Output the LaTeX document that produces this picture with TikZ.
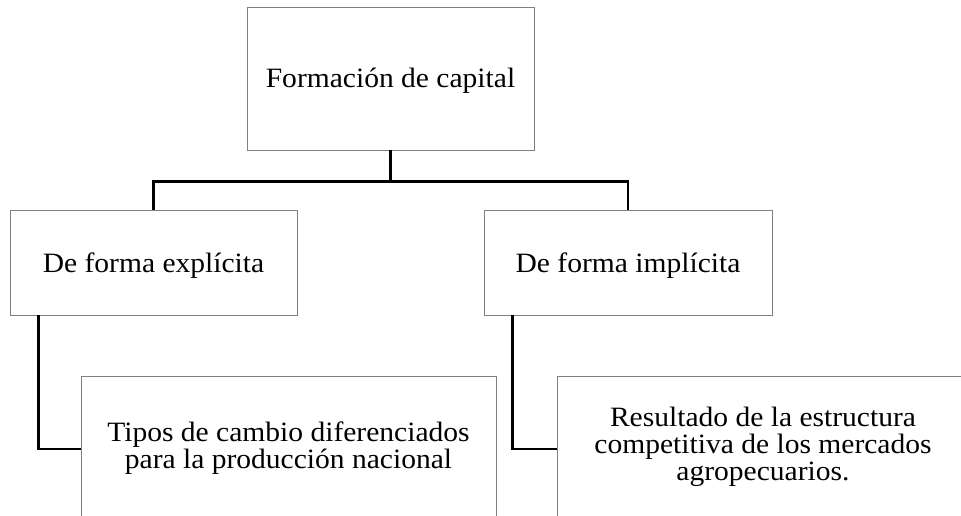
\documentclass[tikz,border=0pt]{standalone}
\usepackage{fontspec}
\setmainfont{Liberation Serif}[FakeStretch=1.055]
\usetikzlibrary{positioning}

\begin{document}
\begin{tikzpicture}[x=1pt,y=1pt]
    \tikzset{block/.style= {draw=gray, line width=0.8pt, rectangle
    , inner sep=0pt
    , align=center
    , font=\fontsize{28}{27.3}\selectfont
      }
    , link/.style= {draw, line width=2.6pt}
    }
\useasboundingbox (0,0) rectangle (961,-515);
\clip (0,0) rectangle (961,-515);

\node [block, minimum width=287, minimum height=143, text height=23.7pt] (capital) at (390.5,-78.5) {Formaci\'on de capital};
\node [block, minimum width=287, minimum height=105, text height=25.7pt] (explicita) at (153.5,-262.5) {De forma expl\'icita};
\node [block, minimum width=288, minimum height=105, text height=25.7pt] (implicita) at (628,-262.5) {De forma impl\'icita};
\node [block, minimum width=415, minimum height=146, text depth=7.8pt] (tipos) at (288.5,-449) {Tipos de cambio diferenciados\\para la producci\'on nacional};
\node [block, minimum width=412, minimum height=146, text depth=10.5pt] (resultado) at (763,-449) {Resultado de la estructura\\competitiva de los mercados\\agropecuarios.};

\coordinate [below=31 of capital.south] (split);
 \path[link]
  (capital.south) -- (split);
 \path[link]
  (explicita.north) |- (split) -| (implicita.north);
 \path[link]
  ([xshift=29]explicita.south west) |- (tipos.west);
 \path[link]
  ([xshift=29]implicita.south west) |- (resultado.west);
\end{tikzpicture}
\end{document}
